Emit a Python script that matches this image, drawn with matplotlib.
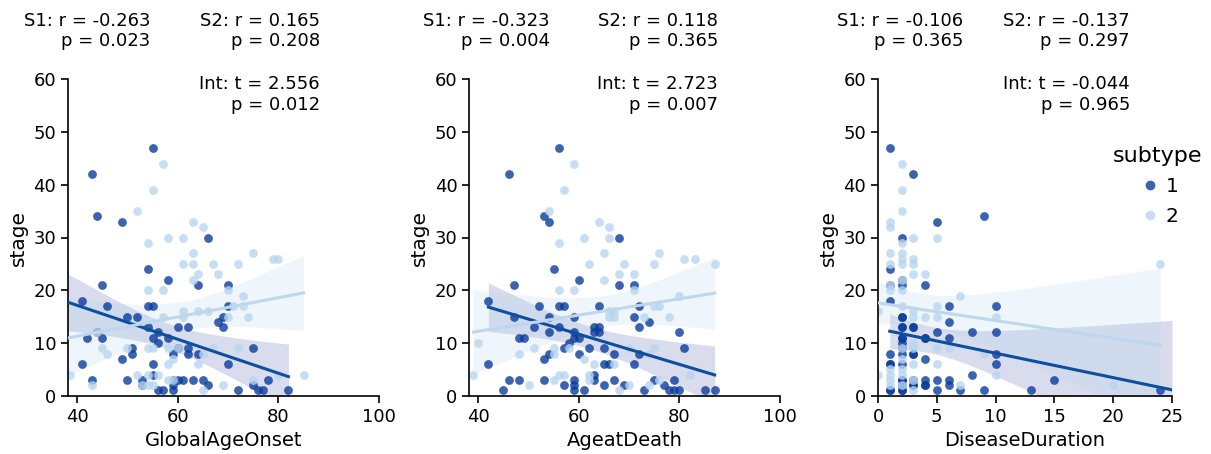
import numpy as np
import matplotlib
matplotlib.use("Agg")
import matplotlib.pyplot as plt
from matplotlib.lines import Line2D

# ---------------- data ----------------
onset_s1_x = [55,43,44,49,66,54,58,45,64,70,46,54,55,70,41,50,52,69,68,60,62,69,54,56,55,56,42,45,44,58,
              51,51,59,60,62,62,64,75,49,41,55,70,43,50,53,53,55,59,60,61,63,65,66,56,57,59,59,72,75,76,77,78,82]
onset_s1_y = [47,42,34,33,30,24,22,21,21,21,17,17,17,17,18,15,15,15,14,13,13,13,13,12,11,10,11,11,12,11,
              9,8,8,9,9,8,8,9,7,6,6,6,3,3,3,2,4,3,3,3,3,3,2,1,1,1,2,1,2,1,1,3,1]
onset_s2_x = [57,55,52,54,58,61,63,65,63,75,61,63,67,72,64,68,63,79,80,54,57,70,73,71,73,57,70,74,61,64,
              66,61,44,45,46,50,54,55,58,60,67,72,59,58,64,65,38.5,52,54,56,59,43,53,54,55,65,69,75,80,85,58]
onset_s2_y = [44,39,35,29,30,30,33,32,27,27,25,25,25,25,23,23,22,26,26,20,20,20,19,17,17,15,15,15,16,16,
              16,15,12,9,8,9,9,9,9,9,9,9,7,6,6,8,4,4,4,4,3,2,2,2,2,1,2,3,4,4,3]

death_s1_x = [56,46,53,54,68,55,60,47,68,71,42,52,56,57,64,72,47,54,59,71,74,51,56,63,64,72,54,59,63,64,
              80,48,49,59,60,58,62,57,65,81,54,67,60,72,53,42,65,66,71,63,46,48,53,59,63,67,75,79,57,59,
              65,69,77,45,59,61,73,78,79,80,85,87]
death_s1_y = [47,42,34,33,30,24,22,21,21,21,18,17,17,17,17,17,15,15,15,15,14,13,13,13,13,13,12,12,12,12,
              12,11,11,11,11,10,9,9,9,9,8,8,8,8,7,6,6,6,6,4,3,3,3,3,3,3,3,3,2,2,
              2,2,2,1,1,1,1,1,1,1,1,1]
death_s2_x = [59,57,54,56,61,64,66,66,65,76,62,69,75,81,83,87,68,71,65,56,59,71,80,75,76,66,67,66,67,73,
              78,40,51,48,55,55,58,70,75,74,61,63,67,39,50,55,56,57,62,62,68,70,74,76,82]
death_s2_y = [44,39,35,29,30,33,32,30,27,27,25,25,25,26,26,25,23,23,22,20,20,20,19,17,17,16,16,15,15,15,
              15,10,9,8,9,8,9,9,9,8,7,6,6,4,2,3,4,4,4,3,1,2,2,3,4]

dur_s1_x = [1]*9 + [2]*18 + [3]*8 + [4]*7 + [5]*4 + [6]*5 + [7] + [8]*2 + [9]*2 + [10]*4 + [13, 15, 24]
dur_s1_y = [47,24,21,18,8,6,6,1,1,
            30,22,21,15,15,13,13,11,11,10,9,8,6,3,3,2,1,1,
            42,13,13,8,8,3,2,2,
            21,11,11,7,3,2,2,
            33,12,3,1,
            17,14,11,3,2,
            1,
            12,4,
            34,1,
            17,12,8,6,
            1,3,1]
dur_s2_x = [0]*2 + [1]*10 + [2]*15 + [3]*11 + [4]*2 + [5]*5 + [6] + [7]*2 + [9] + [10]*2 + [20, 24]
dur_s2_y = [16,4,
            33,32,27,25,21,20,5,4,3,2,
            44,39,35,29,27,26,25,22,20,17,9,7,5,4,2,
            30,26,25,23,16,15,10,9,6,3,1,
            23,15,
            30,17,15,9,6,
            9,
            19,2,
            8,
            15,4,
            2,25]

xlabels = ["GlobalAgeOnset", "AgeatDeath", "DiseaseDuration"]
s1_stats = ["S1: r = -0.263\np = 0.023", "S1: r = -0.323\np = 0.004", "S1: r = -0.106\np = 0.365"]
s2_stats = ["S2: r = 0.165\np = 0.208", "S2: r = 0.118\np = 0.365", "S2: r = -0.137\np = 0.297"]
int_stats = ["Int: t = 2.556\np = 0.012", "Int: t = 2.723\np = 0.007", "Int: t = -0.044\np = 0.965"]
subtypes = ["1", "2"]

# ---------------- style ----------------
W, H = 1211, 454
fig = plt.figure(figsize=(W / 100, H / 100), dpi=100)

scatter_cols = ["#0a3c9c", "#b8d6f0"]
line_cols = ["#0d4f9e", "#bdd7ee"]
band_cols = [("#5060b0", 0.22), ("#b8d6f0", 0.22)]

ax_px = [(68, 379), (469.3, 780), (878, 1172)]
top_px, bot_px = 79.3, 395.7
xlims = [(38.2, 100), (38.2, 100), (0, 25)]
xticks = [[40, 60, 80, 100], [40, 60, 80, 100], [0, 5, 10, 15, 20, 25]]
line_ranges = [[(38.2, 82), (38.2, 85)], [(42, 87), (39, 87)], [(1, 25), (0, 24)]]
txt_s1_px = [150, 550, 963]
txt_s2_px = [320, 718, 1130]

panels = [
    [(onset_s1_x, onset_s1_y), (onset_s2_x, onset_s2_y)],
    [(death_s1_x, death_s1_y), (death_s2_x, death_s2_y)],
    [(dur_s1_x, dur_s1_y), (dur_s2_x, dur_s2_y)],
]


def fit_band(x, y, xs):
    x = np.asarray(x, float)
    y = np.asarray(y, float)
    n = len(x)
    b, a = np.polyfit(x, y, 1)
    yhat = a + b * xs
    resid = y - (a + b * x)
    s = np.sqrt(np.sum(resid ** 2) / (n - 2))
    sxx = np.sum((x - x.mean()) ** 2)
    se = s * np.sqrt(1.0 / n + (xs - x.mean()) ** 2 / sxx)
    return yhat, yhat - 1.98 * se, yhat + 1.98 * se


for i, pdata in enumerate(panels):
    l, r = ax_px[i]
    ax = fig.add_axes([l / W, (H - bot_px) / H, (r - l) / W, (bot_px - top_px) / H])
    for k, (x, y) in enumerate(pdata):
        ax.scatter(x, y, s=40, color=scatter_cols[k], alpha=0.8, linewidths=0, zorder=2)
        xs = np.linspace(*line_ranges[i][k], 100)
        yhat, lo, hi = fit_band(x, y, xs)
        ax.plot(xs, yhat, color=line_cols[k], lw=2.2, zorder=3)
        ax.fill_between(xs, lo, hi, color=band_cols[k][0], alpha=band_cols[k][1], linewidth=0, zorder=1)
    ax.set_xlim(*xlims[i])
    ax.set_ylim(0, 60)
    ax.set_xticks(xticks[i])
    ax.set_yticks(range(0, 61, 10))
    ax.tick_params(labelsize=13, length=5, width=1.2)
    for sp in ["top", "right"]:
        ax.spines[sp].set_visible(False)
    for sp in ["left", "bottom"]:
        ax.spines[sp].set_linewidth(1.2)
    ax.set_xlabel(xlabels[i], fontsize=14)
    ax.set_ylabel("stage", fontsize=14.5)

    fig.text(txt_s1_px[i] / W, 1 - 31 / H, s1_stats[i], ha="right", va="center",
             multialignment="right", fontsize=13)
    fig.text(txt_s2_px[i] / W, 1 - 31 / H, s2_stats[i], ha="right", va="center",
             multialignment="right", fontsize=13)
    fig.text(txt_s2_px[i] / W, 1 - 94.5 / H, int_stats[i], ha="right", va="center",
             multialignment="right", fontsize=13)

handles = [Line2D([], [], marker="o", ls="", color=scatter_cols[k], alpha=0.8, markersize=7,
                  markeredgewidth=0) for k in range(2)]
leg = fig.legend(handles, subtypes, title="subtype", frameon=False, fontsize=14.5, title_fontsize=16,
                 loc="center", bbox_to_anchor=(1158 / W, 1 - 186 / H), handletextpad=0.2,
                 labelspacing=0.55, handlelength=1.2)

fig.savefig("out.png", dpi=100)
